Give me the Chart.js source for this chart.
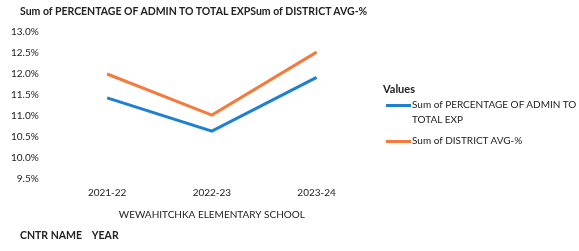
<!DOCTYPE html>
<html>
<head>
<meta charset="utf-8">
<script src="https://cdn.jsdelivr.net/npm/chart.js@4"></script>
<style>
  body { margin: 0; background: #fff; font-family: Lato, "Open Sans", sans-serif; }
  #wrap { position: relative; width: 579px; height: 251px; }
  canvas { position: absolute; left: 0; top: 0; }
  .lbl { position: absolute; font-size: 10.5px; color: #222; white-space: nowrap; }
  .bold { font-weight: bold; }
  #legend { position: absolute; left: 383px; top: 82px; width: 196px; font-size: 10px; color: #222; }
  #legend .item { position: relative; padding-left: 29px; line-height: 15px; margin-bottom: 6px; white-space: nowrap; }
  #legend .swatch { position: absolute; left: 3px; top: 7px; width: 25px; height: 3px; }
</style>
</head>
<body>
<div id="wrap">
  <canvas id="chart" width="579" height="251"></canvas>
  <div class="lbl bold" style="left:20px; top:5px;">Sum of PERCENTAGE OF ADMIN TO TOTAL EXPSum of DISTRICT AVG-%</div>
  <div class="lbl bold" style="left:20px; top:229px;">CNTR NAME&nbsp;&nbsp;&nbsp; YEAR</div>
  <div id="legend"></div>
</div>
<script>
// dados
const anos = ["2021-22", "2022-23", "2023-24"];
const adminPct = [11.43, 10.64, 11.92];
const distritoPct = [12.0, 11.02, 12.52];
const yTicks = [9.5, 10.0, 10.5, 11.0, 11.5, 12.0, 12.5, 13.0];
const nomesSeries = ["Sum of PERCENTAGE OF ADMIN TO TOTAL EXP", "Sum of DISTRICT AVG-%"];
const cores = ["#1f7fd1", "#f47b3c"];

// legenda em HTML (o texto quebra em duas linhas)
const legend = document.getElementById("legend");
legend.innerHTML = '<div class="bold" style="font-size:11px;margin-bottom:2px;">Values</div>';
nomesSeries.forEach((nome, i) => {
  const item = document.createElement("div");
  item.className = "item";
  item.innerHTML = `<span class="swatch" style="background:${cores[i]}"></span>${nome.replace("TO TOTAL", "TO<br>TOTAL")}`;
  legend.appendChild(item);
});

const ctx = document.getElementById("chart").getContext("2d");
new Chart(ctx, {
  type: "line",
  data: {
    labels: anos,
    datasets: [
      { label: nomesSeries[0], data: adminPct, borderColor: cores[0], borderWidth: 3, pointRadius: 0, fill: false, tension: 0 },
      { label: nomesSeries[1], data: distritoPct, borderColor: cores[1], borderWidth: 3, pointRadius: 0, fill: false, tension: 0 },
    ],
  },
  options: {
    responsive: false,
    animation: false,
    layout: { padding: { top: 32, right: 210, bottom: 26, left: 3 } },
    plugins: { legend: { display: false }, tooltip: { enabled: false } },
    scales: {
      x: {
        offset: true,
        grid: { display: false },
        border: { display: false },
        ticks: { color: "#222", font: { family: "Lato", size: 10 }, padding: 0 },
        title: { display: true, text: "WEWAHITCHKA ELEMENTARY SCHOOL", color: "#222", font: { family: "Lato", size: 10 }, padding: { top: 10 } },
      },
      y: {
        min: yTicks[0],
        max: yTicks[yTicks.length - 1],
        afterBuildTicks: (axis) => { axis.ticks = yTicks.map((v) => ({ value: v })); },
        grid: { display: false },
        border: { display: false },
        ticks: { color: "#222", font: { family: "Lato", size: 10 }, padding: 8, callback: (v) => v.toFixed(1) + "%" },
      },
    },
  },
});
</script>
</body>
</html>
